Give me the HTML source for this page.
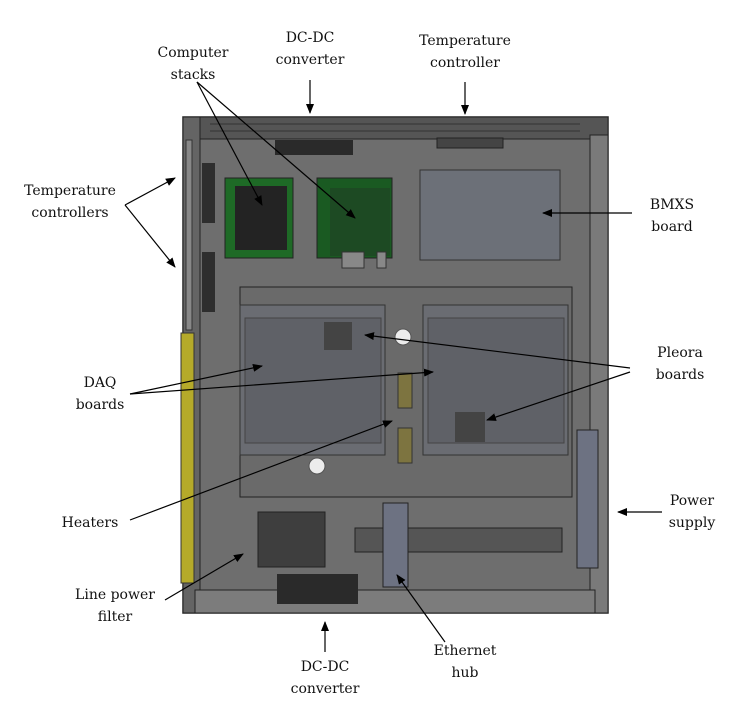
<!DOCTYPE html>
<html><head><meta charset="utf-8"><style>
html,body{margin:0;padding:0;background:#fff}
svg{display:block}
text{font-family:"DejaVu Serif","Liberation Serif",serif;font-size:14px;fill:#111;text-anchor:middle}
</style></head><body>
<svg width="735" height="708" viewBox="0 0 735 708">
<defs><marker id="ah" markerWidth="10" markerHeight="8" refX="9" refY="4" orient="auto" markerUnits="userSpaceOnUse"><path d="M0,0 L10,4 L0,8 z" fill="#000"/></marker></defs>
<g>
<rect x="183" y="117" width="425" height="496" fill="#6e6e6e" stroke="#222" stroke-width="1.5"/>
<rect x="183" y="117" width="425" height="22" fill="#555" stroke="#222"/>
<line x1="210" y1="124" x2="580" y2="124" stroke="#333"/><line x1="210" y1="131" x2="580" y2="131" stroke="#333"/>
<rect x="183" y="117" width="17" height="496" fill="#646464" stroke="#222"/>
<rect x="590" y="135" width="18" height="478" fill="#7a7a7a" stroke="#222"/>
<rect x="181" y="333" width="13" height="250" fill="#b5aa2a" stroke="#333"/>
<rect x="186" y="140" width="6" height="190" fill="#888" stroke="#333"/>
<rect x="195" y="590" width="400" height="23" fill="#7c7c7c" stroke="#222"/>
</g>
<rect x="275" y="140" width="78" height="15" fill="#2a2a2a"/>
<rect x="437" y="138" width="66" height="10" fill="#444" stroke="#222"/>
<rect x="202" y="163" width="13" height="60" fill="#2e2e2e"/>
<rect x="202" y="252" width="13" height="60" fill="#2e2e2e"/>
<g>
<rect x="225" y="178" width="68" height="80" fill="#1e6a26" stroke="#222"/>
<rect x="235" y="186" width="52" height="64" fill="#232323"/></g>
<g>
<rect x="317" y="178" width="75" height="80" fill="#1a5a22" stroke="#222"/>
<rect x="330" y="188" width="60" height="68" fill="#1d4a23"/>
<rect x="342" y="252" width="22" height="16" fill="#888" stroke="#333"/><rect x="377" y="252" width="9" height="16" fill="#888" stroke="#333"/></g>
<rect x="420" y="170" width="140" height="90" fill="#6c7078" stroke="#333"/>
<g>
<rect x="240" y="287" width="332" height="210" fill="#6a6a6a" stroke="#222"/></g>
<g>
<rect x="240" y="305" width="145" height="150" fill="#6a6c72" stroke="#333"/>
<rect x="245" y="318" width="136" height="125" fill="#5f6167" stroke="#444"/>
<rect x="324" y="322" width="28" height="28" fill="#444"/></g>
<g>
<rect x="423" y="305" width="145" height="150" fill="#6a6c72" stroke="#333"/>
<rect x="428" y="318" width="136" height="125" fill="#5f6167" stroke="#444"/>
<rect x="455" y="412" width="30" height="30" fill="#444"/></g>
<circle cx="403" cy="337" r="8" fill="#ececec" stroke="#555"/>
<circle cx="317" cy="466" r="8" fill="#ececec" stroke="#555"/>
<rect x="398" y="373" width="14" height="35" fill="#7d7440" stroke="#333"/>
<rect x="398" y="428" width="14" height="35" fill="#7d7440" stroke="#333"/>
<rect x="258" y="512" width="67" height="55" fill="#3e3e3e" stroke="#222"/>
<rect x="277" y="574" width="81" height="30" fill="#2a2a2a"/>
<rect x="355" y="528" width="207" height="24" fill="#555" stroke="#222"/>
<rect x="383" y="503" width="25" height="84" fill="#6d7282" stroke="#222"/>
<rect x="577" y="430" width="21" height="138" fill="#6d7282" stroke="#222"/>
<g stroke="#000" stroke-width="1.2" marker-end="url(#ah)" fill="none">
<line x1="197" y1="82" x2="262" y2="205"/><line x1="197" y1="82" x2="355" y2="218"/>
<line x1="310" y1="80" x2="310" y2="113"/><line x1="465" y1="82" x2="465" y2="114"/>
<line x1="125" y1="205" x2="175" y2="178"/><line x1="125" y1="205" x2="175" y2="267"/>
<line x1="632" y1="213" x2="543" y2="213"/>
<line x1="630" y1="368" x2="365" y2="335"/><line x1="630" y1="372" x2="487" y2="420"/>
<line x1="130" y1="394" x2="262" y2="366"/><line x1="130" y1="394" x2="433" y2="372"/>
<line x1="130" y1="520" x2="392" y2="421"/>
<line x1="662" y1="512" x2="618" y2="512"/>
<line x1="165" y1="600" x2="243" y2="554"/>
<line x1="325" y1="652" x2="325" y2="622"/>
<line x1="445" y1="642" x2="397" y2="575"/>
</g>
<text x="193" y="57">Computer<tspan x="193" dy="22">stacks</tspan></text>
<text x="310" y="42">DC-DC<tspan x="310" dy="22">converter</tspan></text>
<text x="465" y="45">Temperature<tspan x="465" dy="22">controller</tspan></text>
<text x="70" y="195">Temperature<tspan x="70" dy="22">controllers</tspan></text>
<text x="672" y="209">BMXS<tspan x="672" dy="22">board</tspan></text>
<text x="680" y="357">Pleora<tspan x="680" dy="22">boards</tspan></text>
<text x="100" y="387">DAQ<tspan x="100" dy="22">boards</tspan></text>
<text x="90" y="527">Heaters</text>
<text x="692" y="505">Power<tspan x="692" dy="22">supply</tspan></text>
<text x="115" y="599">Line power<tspan x="115" dy="22">filter</tspan></text>
<text x="325" y="671">DC-DC<tspan x="325" dy="22">converter</tspan></text>
<text x="465" y="655">Ethernet<tspan x="465" dy="22">hub</tspan></text>
</svg>
</body></html>
